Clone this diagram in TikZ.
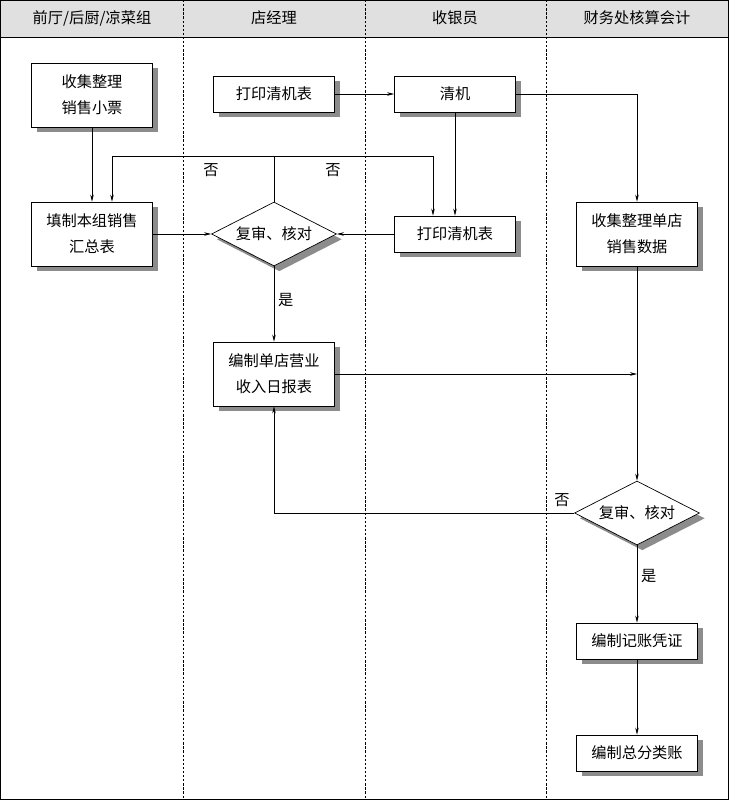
\documentclass[tikz,border=0pt]{standalone}
\usepackage{fontspec}
\setmainfont{Noto Sans CJK SC}
\usetikzlibrary{shapes.geometric,shadows,arrows.meta}

\tikzset{
  every node/.style={font=\fontsize{13}{22}\selectfont},
  box/.style={draw, fill=white, line width=0.6pt, align=center,
    minimum width=3.63cm, inner sep=2pt,
    drop shadow={shadow xshift=4.5pt, shadow yshift=-4.5pt, fill=black!45, opacity=1}},
  decision/.style={draw, fill=white, shape=diamond, line width=0.6pt, aspect=1.95,
    inner sep=0pt, minimum width=3.75cm, minimum height=1.92cm,
    drop shadow={shadow xshift=4.5pt, shadow yshift=-4.5pt, fill=black!45, opacity=1}},
  arr/.style={line width=0.5pt, -{Stealth[length=6pt,width=3pt]}},
  lane/.style={line width=0.6pt, dash pattern=on 2pt off 1.5pt}
}

\begin{document}
\begin{tikzpicture}[x=0.03cm, y=-0.03cm]
\useasboundingbox (0,0) rectangle (729,800);
%header
\fill[black!12] (0,0) rectangle (729,37);
\draw[line width=0.6pt] (0,37) -- (729,37);
\foreach \x in {183,365,546}{
\draw[lane] (\x,0) -- (\x,800);
}
\node (h1) at (92,18) {前厅/后厨/凉菜组};
\node (h2) at (274,18) {店经理};
\node (h3) at (455,18) {收银员};
\node (h4) at (637,18) {财务处核算会计};
\draw[line width=1.6pt] (0,0) rectangle (729,800);

% boxes
\node[box, minimum height=1.92cm] (tickets) at (92,95) {收集整理\\销售小票};
\node[box, minimum height=1.08cm] (print1) at (274,94) {打印清机表};
\node[box, minimum height=1.08cm] (clear) at (455,94) {清机};
\node[box, minimum height=1.92cm] (summary) at (92,234) {填制本组销售\\汇总表};
\node[decision] (check1) at (274,234) {复审、核对};
\node[box, minimum height=1.08cm] (print2) at (455,234) {打印清机表};
\node[box, minimum height=1.92cm] (collect) at (637,234) {收集整理单店\\销售数据};
\node[box, minimum height=1.92cm] (daily) at (274,374) {编制单店营业\\收入日报表};
\node[decision] (check2) at (637,513) {复审、核对};
\node[box, minimum height=1.08cm] (voucher) at (637,641) {编制记账凭证};
\node[box, minimum height=1.08cm] (ledger) at (637,753) {编制总分类账};

% connectors
\coordinate (split) at (274,156);
\coordinate (backleft) at (112,156);
\coordinate (backright) at (433,156);
\draw[arr] (tickets) -- (summary);
\draw[arr] (print1) -- (clear);
\draw[arr] (clear) -- (print2);
\draw[arr] (clear.east) -| (collect.north);
\draw[arr] (summary) -- (check1);
\draw[arr] (print2) -- (check1);
\draw[line width=0.5pt] (check1.north) -- (split);
\draw[arr] (split) -- (backleft) -- (backleft |- summary.north);
\draw[arr] (split) -- (backright) -- (backright |- print2.north);
\draw[arr] (check1) -- node[pos=0.45, right] {是} (daily);
\draw[arr] (collect) -- (check2);
\draw[arr] (daily.east) -- (daily.east -| collect.south);
\draw[arr] (check2.west) -| (daily.south);
\draw[arr] (check2) -- node[pos=0.4, right] {是} (voucher);
\draw[arr] (voucher) -- (ledger);
% labels
\node (no1) at (211,170) {否};
\node (no2) at (333,170) {否};
\node (no3) at (562,500) {否};
\end{tikzpicture}
\end{document}
